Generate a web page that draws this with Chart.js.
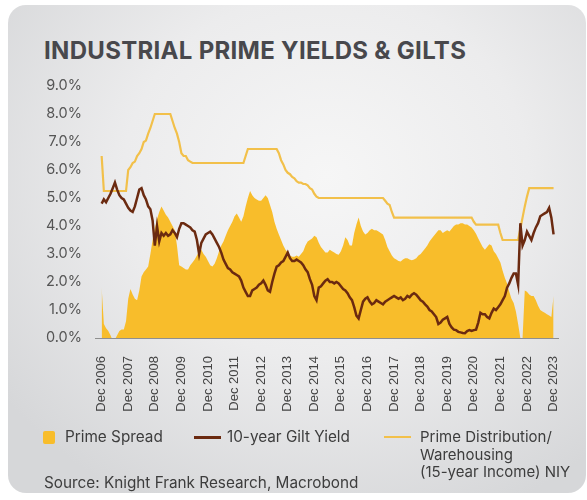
<!DOCTYPE html>
<html>
<head>
<meta charset="utf-8">
<script src="https://cdn.jsdelivr.net/npm/chart.js@4.4.0/dist/chart.umd.min.js"></script>
<style>
  body { margin: 0; width: 587px; height: 500px; overflow: hidden; background: #fff; font-family: Inter, sans-serif; }
  .card { position: absolute; left: 8px; top: 5px; width: 578px; height: 488px; border-radius: 18px;
    background: radial-gradient(ellipse 70% 75% at 55% 35%, #f6f6f6 0%, #ececed 50%, #d6d7d9 100%); }
  .title { position: absolute; left: 44px; top: 36px; font-size: 24px; font-weight: bold; color: #48484c; letter-spacing: 0.3px; }
  canvas { position: absolute; left: 0; top: 0; }
  .lg { position: absolute; font-size: 15.3px; color: #3d3d3d; line-height: 17.5px; }
  .sw { position: absolute; }
</style>
</head>
<body>
<div class="card"></div>
<div class="title">INDUSTRIAL PRIME YIELDS &amp; GILTS</div>
<canvas id="chart" width="587" height="500"></canvas>
<div class="sw" style="left:43px;top:431px;width:12px;height:13px;background:#f8bd2b;border-radius:2px"></div>
<div class="lg" style="left:65px;top:428px">Prime Spread</div>
<div class="sw" style="left:194px;top:436px;width:27px;height:3px;background:#6b2a10"></div>
<div class="lg" style="left:227px;top:428px">10-year Gilt Yield</div>
<div class="sw" style="left:384px;top:436px;width:27px;height:2px;background:#f2c04a"></div>
<div class="lg" style="left:420px;top:428px;font-size:15px">Prime Distribution/<br>Warehousing<br>(15-year Income) NIY</div>
<div class="lg" style="left:44px;top:474px">Source: Knight Frank Research, Macrobond</div>
<script>
// monthly series, first point = Dec 2006, last = Dec 2023
const tickLabels = ['Dec 2006', 'Dec 2007', 'Dec 2008', 'Dec 2009', 'Dec 2010', 'Dec 2011', 'Dec 2012',
  'Dec 2013', 'Dec 2014', 'Dec 2015', 'Dec 2016', 'Dec 2017', 'Dec 2018', 'Dec 2019', 'Dec 2020',
  'Dec 2021', 'Dec 2022', 'Dec 2023'];

const primeSpread = [
  1.8, 0.5, 0.35, 0.25, 0.1, -0.1, -0.05, 0.1, 0.25, 0.3, 0.3, 0.6,
  1.4, 1.75, 1.55, 1.4, 1.35, 1.7, 2.2, 2.35, 2.45, 2.55, 3.0, 3.5,
  3.9, 4.25, 4.5, 4.7, 4.55, 4.4, 4.3, 4.15, 4.0, 3.85, 3.3, 2.6,
  2.55, 2.5, 2.45, 2.45, 2.6, 2.7, 2.8, 2.95, 3.1, 3.15, 3.0, 2.9,
  2.75, 2.6, 2.55, 2.65, 2.85, 3.1, 3.3, 3.45, 3.65, 3.85, 4.0, 4.15,
  4.35, 4.45, 4.3, 4.15, 4.35, 4.7, 5.0, 5.25, 5.1, 5.0, 4.95, 4.9,
  4.9, 5.0, 5.1, 5.0, 4.75, 4.5, 4.15, 3.9, 3.7, 3.5, 3.3, 3.15,
  3.05, 2.95, 2.9, 2.9, 2.95, 2.9, 3.0, 3.1, 3.3, 3.45, 3.5, 3.55,
  3.65, 3.6, 3.4, 3.25, 3.15, 3.05, 3.05, 3.15, 3.1, 3.05, 3.0, 2.97,
  3.1, 3.3, 3.6, 3.5, 3.3, 3.3, 3.75, 4.05, 4.3, 4.0, 3.8, 3.7,
  3.75, 3.85, 3.9, 3.85, 3.85, 3.8, 3.75, 3.7, 3.5, 3.25, 3.1, 2.95,
  2.85, 2.8, 2.75, 2.73, 2.8, 2.85, 2.85, 2.8, 2.78, 2.8, 2.85, 2.95,
  3.0, 3.1, 3.2, 3.3, 3.45, 3.55, 3.65, 3.75, 3.85, 3.85, 3.75, 3.8,
  3.85, 3.8, 3.9, 4.0, 4.05, 4.05, 4.1, 4.1, 4.05, 4.05, 4.0, 3.95,
  3.85, 3.72, 3.55, 3.4, 3.25, 3.15, 3.25, 3.35, 3.3, 3.1, 3.0, 2.85,
  2.7, 2.4, 2.15, 1.95, 1.65, 1.4, 1.25, 0.95, 0.5, 0, 0, 1.7,
  1.65, 1.55, 1.5, 1.5, 1.35, 1.15, 1.0, 0.95, 0.9, 0.85, 0.8, 0.75,
  1.5
];

const giltYield = [
  4.8, 4.95, 4.85, 5.0, 5.15, 5.35, 5.55, 5.3, 5.1, 5.0, 4.95, 4.8,
  4.65, 4.55, 4.5, 4.7, 5.0, 5.3, 5.35, 5.1, 4.95, 4.7, 4.6, 4.2,
  3.3, 4.0, 3.45, 3.75, 3.65, 3.75, 3.65, 3.7, 3.85, 3.75, 3.6, 3.9,
  4.1, 4.1, 4.05, 4.0, 3.95, 3.85, 3.8, 3.5, 3.0, 3.4, 3.55, 3.7,
  3.75, 3.8, 3.7, 3.55, 3.4, 3.25, 3.05, 2.8, 2.65, 2.5, 2.45, 2.35,
  2.3, 2.25, 2.2, 2.05, 1.8, 1.65, 1.5, 1.5, 1.7, 1.75, 1.8, 1.9,
  1.95, 2.05, 1.9, 1.7, 1.65, 2.0, 2.3, 2.55, 2.6, 2.7, 2.75, 2.9,
  3.05, 2.85, 2.75, 2.75, 2.8, 2.75, 2.7, 2.6, 2.45, 2.35, 2.1, 1.9,
  1.5, 1.35, 1.8, 1.85, 1.95, 2.05, 2.1, 2.0, 2.0, 1.95, 2.0, 1.95,
  1.85, 1.75, 1.7, 1.6, 1.45, 1.35, 1.1, 0.8, 0.7, 1.0, 1.3, 1.4,
  1.45, 1.3, 1.2, 1.25, 1.35, 1.3, 1.25, 1.2, 1.3, 1.35, 1.4, 1.45,
  1.5, 1.45, 1.4, 1.45, 1.35, 1.4, 1.5, 1.45, 1.55, 1.6, 1.55, 1.45,
  1.35, 1.3, 1.2, 1.12, 1.0, 0.95, 0.85, 0.75, 0.5, 0.55, 0.65, 0.7,
  0.75, 0.5, 0.38, 0.3, 0.28, 0.22, 0.2, 0.18, 0.17, 0.25, 0.28, 0.25,
  0.28, 0.3, 0.55, 0.9, 0.85, 0.85, 0.75, 0.7, 0.9, 1.05, 1.0, 1.1,
  1.2, 1.35, 1.5, 1.8, 1.95, 2.15, 2.3, 2.3, 1.9, 4.1, 3.3, 3.5,
  3.8, 3.65, 3.5, 3.75, 3.95, 4.1, 4.35, 4.4, 4.45, 4.5, 4.65, 4.3,
  3.7
];

const primeNIY = [
  6.5, 5.25, 5.25, 5.25, 5.25, 5.25, 5.25, 5.25, 5.25, 5.25, 5.25, 5.25,
  6.0, 6.1, 6.25, 6.3, 6.5, 6.6, 6.75, 7.0, 7.05, 7.3, 7.5, 7.75,
  8.0, 8.0, 8.0, 8.0, 8.0, 8.0, 8.0, 8.0, 7.75, 7.5, 7.3, 7.0,
  6.6, 6.5, 6.5, 6.35, 6.3, 6.25, 6.25, 6.25, 6.25, 6.25, 6.25, 6.25,
  6.25, 6.25, 6.25, 6.25, 6.25, 6.25, 6.25, 6.25, 6.25, 6.25, 6.25, 6.25,
  6.25, 6.25, 6.25, 6.25, 6.25, 6.5, 6.75, 6.75, 6.75, 6.75, 6.75, 6.75,
  6.75, 6.75, 6.75, 6.75, 6.75, 6.75, 6.75, 6.75, 6.6, 6.35, 6.2, 6.0,
  5.9, 5.85, 5.75, 5.7, 5.6, 5.55, 5.55, 5.5, 5.5, 5.45, 5.35, 5.3,
  5.15, 5.05, 5.0, 5.0, 5.0, 5.0, 5.0, 5.0, 5.0, 5.0, 5.0, 5.0,
  5.0, 5.0, 5.0, 5.0, 5.0, 5.0, 5.0, 5.0, 5.0, 5.0, 5.0, 5.0,
  5.0, 5.0, 5.0, 5.0, 5.0, 5.0, 5.0, 5.0, 4.9, 4.8, 4.75, 4.5,
  4.3, 4.3, 4.3, 4.3, 4.3, 4.3, 4.3, 4.3, 4.3, 4.3, 4.3, 4.3,
  4.3, 4.3, 4.3, 4.3, 4.3, 4.3, 4.3, 4.3, 4.3, 4.3, 4.3, 4.3,
  4.3, 4.3, 4.3, 4.3, 4.3, 4.3, 4.3, 4.3, 4.3, 4.3, 4.3, 4.3,
  4.15, 4.05, 4.05, 4.05, 4.05, 4.05, 4.05, 4.05, 4.05, 4.05, 4.05, 4.05,
  3.75, 3.5, 3.5, 3.5, 3.5, 3.5, 3.5, 3.5, 3.5, 3.9, 4.3, 4.7,
  5.05, 5.35, 5.35, 5.35, 5.35, 5.35, 5.35, 5.35, 5.35, 5.35, 5.35, 5.35,
  5.35
];

const toPoints = arr => arr.map((v, i) => ({ x: i, y: v }));

new Chart(document.getElementById('chart'), {
    type: 'line',
    data: {
        datasets: [
            {
                label: '10-year Gilt Yield',
                data: toPoints(giltYield),
                borderColor: '#6b2a10',
                borderWidth: 2.5,
                pointRadius: 0,
                order: 0
            },
            {
                label: 'Prime Distribution/ Warehousing (15-year Income) NIY',
                data: toPoints(primeNIY),
                borderColor: '#f2c04a',
                borderWidth: 2.2,
                pointRadius: 0,
                order: 1
            },
            {
                label: 'Prime Spread',
                data: toPoints(primeSpread),
                borderWidth: 0,
                borderColor: 'rgba(0,0,0,0)',
                backgroundColor: '#f8bd2b',
                fill: 'origin',
                pointRadius: 0,
                clip: false,
                order: 2
            }
        ]
    },
    options: {
        responsive: false,
        animation: false,
        layout: { padding: { left: 35, right: 29, top: 86, bottom: 82 } },
        plugins: { legend: { display: false }, tooltip: { enabled: false } },
        scales: {
            x: {
                type: 'linear',
                min: -3,
                max: 206,
                grid: { display: false },
                border: { display: true, color: '#8f8f8f', width: 1 },
                afterBuildTicks: s => { s.ticks = tickLabels.map((_, i) => ({ value: i * 12 })); },
                afterFit: s => { s.height = 80; },
                ticks: {
                    autoSkip: false,
                    maxRotation: 90,
                    minRotation: 90,
                    padding: 10,
                    color: '#444',
                    font: { family: 'Liberation Sans', size: 13 },
                    callback: v => tickLabels[v / 12]
                }
            },
            y: {
                min: 0,
                max: 9,
                grid: { display: false, drawTicks: false },
                border: { display: false },
                afterFit: s => { s.width = 60; },
                ticks: {
                    stepSize: 1,
                    padding: 13,
                    color: '#555',
                    font: { family: 'Inter', size: 14.5 },
                    callback: v => v.toFixed(1) + '%'
                }
            }
        }
    }
});
</script>
</body>
</html>
